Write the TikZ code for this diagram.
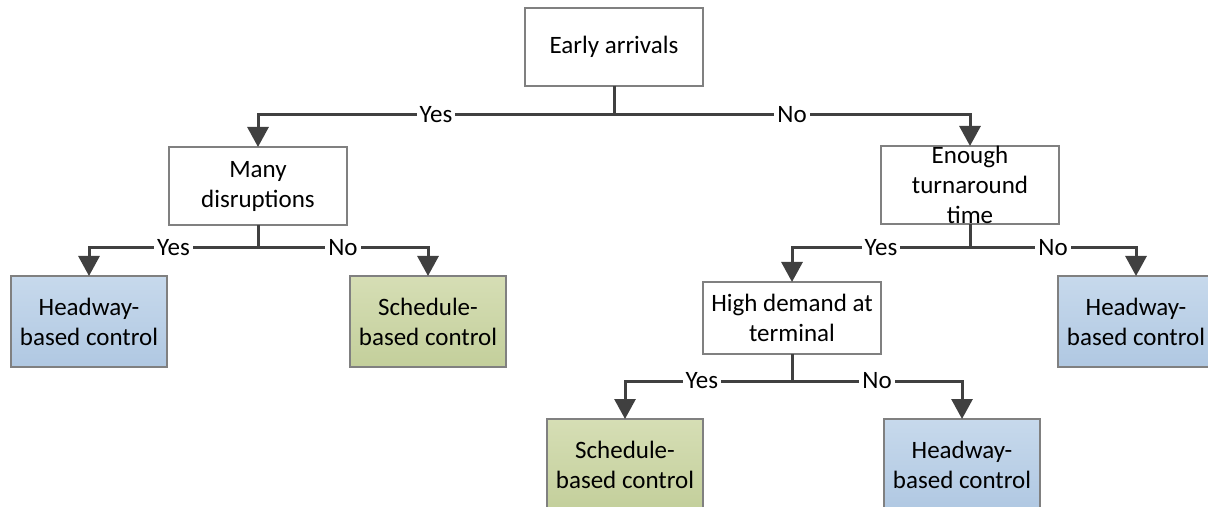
\documentclass[tikz,border=0pt]{standalone}
\usepackage{fontspec}
\setmainfont{Carlito}
\usetikzlibrary{arrows.meta}
\definecolor{linegray}{RGB}{64,64,64}
\definecolor{boxgray}{RGB}{128,128,128}
\definecolor{blueTop}{RGB}{199,217,236}
\definecolor{blueBot}{RGB}{176,200,226}
\definecolor{greenTop}{RGB}{214,222,181}
\definecolor{greenBot}{RGB}{195,207,155}
\begin{document}
\begin{tikzpicture}[x=0.5pt,y=-0.5pt,inner sep=0pt,outer sep=0pt,
font=\fontsize{12.5}{15}\selectfont,
decision/.style={draw=boxgray,fill=white,rectangle,align=center,minimum width=89pt,minimum height=39pt,line width=0.6pt},
headway/.style={draw=boxgray,rectangle,align=center,minimum width=78pt,minimum height=45.5pt,line width=0.6pt,top color=blueTop,bottom color=blueBot},
schedule/.style={draw=boxgray,rectangle,align=center,minimum width=78pt,minimum height=45.5pt,line width=0.6pt,top color=greenTop,bottom color=greenBot},
branch/.style={draw=linegray,line width=1.5pt},
tip/.style={-{Triangle[length=10pt,width=10.5pt]}},
answer/.style={fill=white,inner xsep=1.5pt,inner ysep=1pt}]
\useasboundingbox (0,0) rectangle (1208,507);

\node[decision] (early) at (614,47) {Early arrivals};
\node[decision] (many) at (258,186) {Many\\disruptions};
\node[decision] (enough) at (970,185) {Enough\\turnaround\\time};
\node[decision,minimum height=36pt] (demand) at (792,318) {High demand at\\terminal};
\node[headway] (hw1) at (89,321.5) {Headway-\\based control};
\node[schedule] (sc1) at (428,321.5) {Schedule-\\based control};
\node[headway] (hw2) at (1136,321.5) {Headway-\\based control};
\node[schedule] (sc2) at (625,464.5) {Schedule-\\based control};
\node[headway] (hw3) at (962,464.5) {Headway-\\based control};

% first split
\draw[branch] (early.south) -- ++(0,29) coordinate (j1);
\draw[branch,tip] (j1) -| node[answer,pos=0.25] {Yes} (many.north);
\draw[branch,tip] (j1) -| node[answer,pos=0.25] {No} (enough.north);

% left split
\draw[branch] (many.south) -- ++(0,23) coordinate (j2);
\draw[branch,tip] (j2) -| node[answer,pos=0.25] {Yes} (hw1.north);
\draw[branch,tip] (j2) -| node[answer,pos=0.25] {No} (sc1.north);

% right split
\draw[branch] (enough.south) -- ++(0,24) coordinate (j3);
\draw[branch,tip] (j3) -| node[answer,pos=0.25] {Yes} (demand.north);
\draw[branch,tip] (j3) -| node[answer,pos=0.25] {No} (hw2.north);

% terminal split
\draw[branch] (demand.south) -- ++(0,27) coordinate (j4);
\draw[branch,tip] (j4) -| node[answer,pos=0.27] {Yes} (sc2.north);
\draw[branch,tip] (j4) -| node[answer,pos=0.25] {No} (hw3.north);
\end{tikzpicture}
\end{document}
